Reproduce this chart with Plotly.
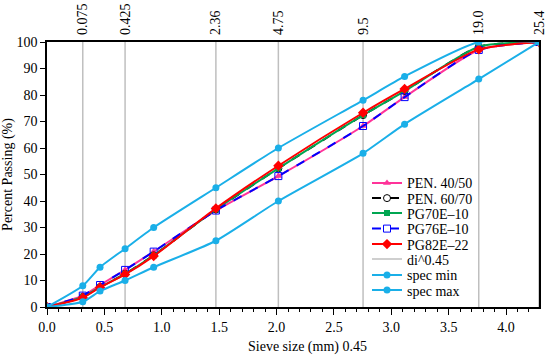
import plotly.graph_objects as go

sieve_mm = [0, 0.075, 0.18, 0.425, 0.85, 2.36, 4.75, 9.5, 12.5, 19.0, 25.4]
pen_4050 = [0, 4.3, 8.3, 14.0, 20.9, 36.4, 49.4, 68.3, 79.2, 97.0, 100]
pen_6070 = [0, 3.8, 7.5, 12.5, 19.5, 36.8, 52.3, 72.4, 81.5, 98.2, 100]
pg70 = [0, 3.8, 7.5, 12.5, 19.5, 36.8, 52.3, 72.4, 81.5, 98.2, 100]
pg76 = [0, 4.3, 8.3, 14.0, 20.9, 36.4, 49.4, 68.3, 79.2, 97.0, 100]
pg82 = [0, 3.5, 7.4, 12.3, 19.2, 37.2, 53.3, 73.3, 82.3, 97.2, 100]
spec_min = [0, 2, 6, 10, 15, 25, 40, 58, 69, 86, 100]
spec_max = [0, 8, 15, 22, 30, 45, 60, 78, 87, 100, 100]
top_labels = ["0.075", "0.425", "2.36", "4.75", "9.5", "19.0", "25.4"]
top_sizes = [0.075, 0.425, 2.36, 4.75, 9.5, 19.0, 25.4]
y_ticks = list(range(0, 101, 10))

P = 0.45
xs = [d ** P for d in sieve_mm]
top_x = [d ** P for d in top_sizes]
xmax = 25.4 ** P

FONT = "Times New Roman, Liberation Serif, serif"
SKY = "#1AAFE8"

# plot-area geometry (pixels)
W, H = 550, 355
ML, MR, MT, MB = 47, 11, 42, 48
PW = W - ML - MR
PH = H - MT - MB

fig = go.Figure()

# di^0.45 vertical reference lines
gx, gy = [], []
for v in top_x:
    gx += [v, v, None]
    gy += [0, 100, None]
fig.add_trace(go.Scatter(x=gx, y=gy, mode="lines", name="di^0.45",
                         line=dict(color="#BFBFBF", width=1.5), showlegend=False,
                         hoverinfo="skip"))

series = [
    ("PEN. 40/50", pen_4050, "#FF3399", "solid", dict(symbol="triangle-up", size=7, color="#FF3399")),
    ("PEN. 60/70", pen_6070, "black", "dash", dict(symbol="circle-open", size=7, color="black")),
    ("PG70E\u201310", pg70, "#00A651", "solid", dict(symbol="square", size=6, color="#00A651")),
    ("PG76E\u201310", pg76, "#0000FF", "dash", dict(symbol="square-open", size=7, color="#0000FF")),
    ("PG82E\u201322", pg82, "#FF0000", "solid", dict(symbol="diamond", size=8, color="#FF0000")),
]

legend_rows = [183.3, 198.5, 213.5, 229, 244.5, 259.5, 275.3, 290.5]
legend_names = ["legend", "legend2", "legend3", "legend4", "legend5", "legend6", "legend7", "legend8"]

k = 0
for name, ys, col, dash, mk in series:
    fig.add_trace(go.Scatter(x=xs, y=ys, mode="lines+markers", name=name,
                             line=dict(color=col, width=2, dash=dash, shape="spline", smoothing=0.6),
                             marker=mk, legend=legend_names[k]))
    k += 1

fig.add_trace(go.Scatter(x=[None], y=[None], mode="lines", name="di^0.45",
                         line=dict(color="#BFBFBF", width=1.5), legend=legend_names[k]))
k += 1

for name, ys in [("spec min", spec_min), ("spec max", spec_max)]:
    fig.add_trace(go.Scatter(x=xs, y=ys, mode="lines+markers", name=name,
                             line=dict(color=SKY, width=2, shape="spline", smoothing=0.6),
                             marker=dict(symbol="circle", size=7, color=SKY),
                             legend=legend_names[k]))
    k += 1

fig.add_trace(go.Scatter(x=[0, xmax], y=[None, None], xaxis="x2", showlegend=False,
                         hoverinfo="skip", mode="lines"))

legend_x = (367 - ML) / PW
legends = {}
for nm, py in zip(legend_names, legend_rows):
    legends[nm] = dict(x=legend_x, y=(H - MB - py) / PH, xanchor="left", yanchor="middle",
                       bgcolor="rgba(0,0,0,0)", borderwidth=0,
                       font=dict(family=FONT, size=14, color="black"))

fig.update_layout(
    width=W, height=H,
    margin=dict(l=ML, r=MR, t=MT, b=MB, autoexpand=False),
    paper_bgcolor="white", plot_bgcolor="white",
    font=dict(family=FONT, size=13, color="black"),
    showlegend=True,
    xaxis=dict(range=[0, xmax], tick0=0, dtick=0.5, tickformat=".1f",
               ticks="outside", ticklen=6, tickcolor="black", automargin=False,
               minor=dict(ticks="outside", ticklen=3, dtick=0.1, tickcolor="black"),
               showline=True, linecolor="black", linewidth=1.5, mirror=True,
               showgrid=False, zeroline=False,
               tickfont=dict(family=FONT, size=14)),
    xaxis2=dict(range=[0, xmax], overlaying="x", side="top", tickmode="array",
                tickvals=top_x, ticktext=top_labels, tickangle=-90, ticks="",
                ticklabelstandoff=6, automargin=False,
                showline=False, showgrid=False, zeroline=False,
                tickfont=dict(family=FONT, size=14)),
    yaxis=dict(range=[0, 100], tickvals=y_ticks, ticks="outside", ticklen=5,
               tickcolor="black", showline=True, linecolor="black", linewidth=1.5,
               mirror=True, showgrid=False, zeroline=False, automargin=False,
               tickfont=dict(family=FONT, size=14),
               title=dict(text="Percent Passing (%)", font=dict(family=FONT, size=14), standoff=4)),
    annotations=[dict(text="Sieve size (mm) 0.45", xref="paper", yref="paper",
                      x=(307 - ML) / PW, y=(H - MB - 347) / PH,
                      xanchor="center", yanchor="middle", showarrow=False,
                      font=dict(family=FONT, size=14, color="black"))],
    **legends,
)

fig.write_html("out.html", config={"displayModeBar": False},
               post_script="document.body.style.margin='0';document.body.style.overflow='hidden';")
